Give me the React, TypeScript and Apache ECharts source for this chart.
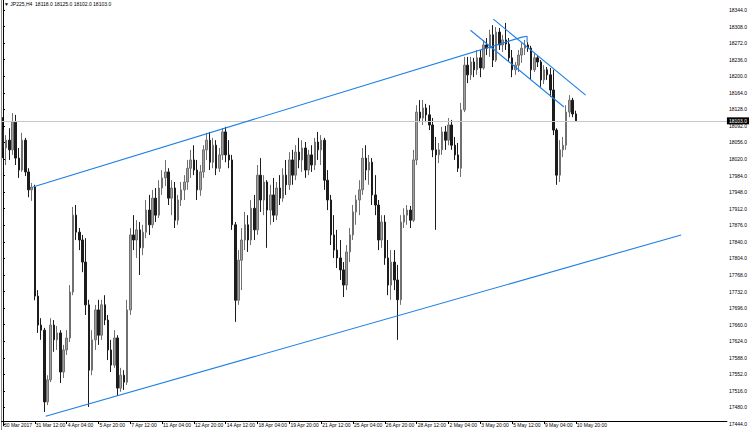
import React, { useEffect, useRef } from 'react';
import * as echarts from 'echarts';

const TITLE = '\u25BC JP225,H4  18118.0 18125.0 18102.0 18103.0';

const X_LABELS = [
  '30 Mar 2017', '31 Mar 12:00', '4 Apr 04:00', '5 Apr 20:00', '7 Apr 12:00',
  '11 Apr 04:00', '12 Apr 20:00', '14 Apr 12:00', '18 Apr 04:00', '19 Apr 20:00',
  '21 Apr 12:00', '25 Apr 04:00', '26 Apr 20:00', '28 Apr 12:00', '2 May 04:00',
  '3 May 20:00', '5 May 12:00', '9 May 04:00', '10 May 20:00',
];

const Y_TICKS = [
  17444, 17480, 17516, 17552, 17588, 17624, 17660, 17696, 17732, 17768, 17804, 17840, 17876,
  17912, 17948, 17984, 18020, 18056, 18092, 18128, 18164, 18200, 18236, 18272, 18308, 18344,
];

const OPEN = [
  18083, 18044, 18061, 18040, 18100, 18022, 17996, 18061, 17992, 17953,
  17959, 17722, 17659, 17648, 17492, 17540, 17659, 17627, 17642, 17557,
  17605, 17631, 17731, 17898, 17861, 17844, 17796, 17703, 17561, 17627,
  17692, 17637, 17703, 17670, 17605, 17572, 17631, 17522, 17550, 17535,
  17692, 17855, 17844, 17866, 17827, 17861, 17909, 17877, 17935, 17898,
  17957, 17979, 17992, 17935, 17957, 17887, 17931, 17953, 17970, 18000,
  18018, 17996, 17953, 17992, 18040, 18061, 18013, 18050, 18000, 18029,
  18079, 18029, 18018, 17877, 17713, 17800, 17844, 17877, 17844, 17913,
  17866, 17985, 17931, 17970, 17909, 17942, 17898, 17957, 17935, 17985,
  17964, 18018, 17985, 18035, 18018, 18044, 17996, 18029, 18007, 18057,
  18040, 18061, 17974, 17931, 17855, 17822, 17805, 17779, 17746, 17818,
  17855, 17905, 17931, 17953, 18022, 17996, 18013, 17942, 17920, 17844,
  17883, 17805, 17746, 17796, 17757, 17714, 17883, 17898, 17909, 17887,
  18018, 18122, 18109, 18131, 18116, 18094, 18040, 18029, 18040, 18079,
  18061, 18094, 18050, 18029, 18000, 18127, 18224, 18203, 18231, 18214,
  18240, 18218, 18268, 18261, 18290, 18235, 18296, 18268, 18279, 18270,
  18240, 18214, 18224, 18246, 18261, 18268, 18261, 18214, 18240, 18231,
  18192, 18214, 18203, 18170, 18083, 17985, 18040, 18050, 18122, 18148,
  18118,
];

const HIGH = [
  18111, 18072, 18087, 18120, 18116, 18044, 18077, 18066, 18000, 17968,
  17964, 17735, 17674, 17653, 17550, 17674, 17670, 17657, 17648, 17616,
  17648, 17746, 17916, 17920, 17870, 17855, 17848, 17714, 17648, 17703,
  17714, 17714, 17724, 17681, 17627, 17648, 17637, 17566, 17561, 17714,
  17870, 17898, 17887, 17883, 17877, 17931, 17942, 17953, 17957, 17974,
  17996, 18018, 18000, 17974, 17970, 17942, 17970, 17985, 18018, 18040,
  18050, 18018, 18007, 18050, 18077, 18079, 18066, 18061, 18044, 18087,
  18090, 18061, 18029, 17883, 17822, 17870, 17905, 17898, 17931, 17942,
  18007, 18022, 17985, 17974, 17964, 17979, 17970, 17985, 18000, 18018,
  18035, 18040, 18050, 18066, 18061, 18057, 18040, 18050, 18066, 18079,
  18072, 18066, 17996, 17942, 17898, 17866, 17844, 17796, 17833, 17870,
  17920, 17942, 17974, 18044, 18050, 18029, 18022, 17985, 17931, 17898,
  17898, 17844, 17822, 17822, 17790, 17898, 17913, 17920, 17918, 18040,
  18137, 18148, 18148, 18140, 18137, 18109, 18068, 18055, 18090, 18092,
  18109, 18105, 18068, 18055, 18142, 18242, 18242, 18242, 18240, 18257,
  18257, 18279, 18283, 18301, 18311, 18307, 18305, 18290, 18316, 18283,
  18257, 18231, 18257, 18272, 18279, 18274, 18266, 18250, 18246, 18235,
  18224, 18220, 18218, 18214, 18087, 18061, 18068, 18137, 18159, 18153,
  18125,
];

const LOW = [
  18022, 18007, 18018, 18029, 18007, 17979, 17992, 17983, 17937, 17929,
  17713, 17642, 17627, 17470, 17485, 17535, 17601, 17605, 17533, 17544,
  17594, 17622, 17724, 17844, 17822, 17774, 17681, 17481, 17550, 17605,
  17616, 17627, 17659, 17583, 17557, 17566, 17505, 17514, 17518, 17529,
  17681, 17822, 17805, 17768, 17811, 17848, 17855, 17870, 17883, 17892,
  17942, 17961, 17920, 17898, 17870, 17877, 17918, 17931, 17953, 17979,
  17985, 17931, 17940, 17979, 18018, 17996, 18000, 17985, 17992, 18018,
  18013, 18000, 17866, 17666, 17703, 17735, 17822, 17818, 17833, 17844,
  17855, 17905, 17898, 17827, 17877, 17883, 17887, 17920, 17927, 17942,
  17953, 17964, 17974, 18000, 17992, 17979, 17985, 17992, 17996, 18018,
  18007, 17953, 17909, 17833, 17805, 17783, 17757, 17720, 17735, 17796,
  17844, 17877, 17898, 17942, 17974, 17964, 17920, 17898, 17822, 17827,
  17790, 17724, 17714, 17735, 17627, 17703, 17870, 17877, 17870, 17883,
  18007, 18100, 18094, 18100, 18083, 18024, 17866, 18011, 18029, 18040,
  18050, 18040, 18018, 17992, 17981, 18122, 18185, 18192, 18198, 18203,
  18198, 18214, 18246, 18242, 18220, 18231, 18257, 18253, 18257, 18231,
  18198, 18203, 18209, 18229, 18246, 18253, 18192, 18209, 18220, 18177,
  18183, 18192, 18155, 18072, 17964, 17970, 18024, 18040, 18111, 18111,
  18102,
];

const CLOSE = [
  18044, 18061, 18040, 18100, 18022, 17996, 18061, 17992, 17953, 17959,
  17722, 17659, 17648, 17492, 17540, 17659, 17627, 17642, 17557, 17605,
  17631, 17731, 17898, 17861, 17844, 17796, 17703, 17561, 17627, 17692,
  17637, 17703, 17670, 17605, 17572, 17631, 17522, 17550, 17535, 17692,
  17855, 17844, 17866, 17827, 17861, 17909, 17877, 17935, 17898, 17957,
  17979, 17992, 17935, 17957, 17887, 17931, 17953, 17970, 18000, 18018,
  17996, 17953, 17992, 18040, 18061, 18013, 18050, 18000, 18029, 18079,
  18029, 18018, 17877, 17713, 17800, 17844, 17877, 17844, 17913, 17866,
  17985, 17931, 17970, 17909, 17942, 17898, 17957, 17935, 17985, 17964,
  18018, 17985, 18035, 18018, 18044, 17996, 18029, 18007, 18057, 18040,
  18061, 17974, 17931, 17855, 17822, 17805, 17779, 17746, 17818, 17855,
  17905, 17931, 17953, 18022, 17996, 18013, 17942, 17920, 17844, 17883,
  17805, 17746, 17796, 17757, 17714, 17883, 17898, 17909, 17887, 18018,
  18122, 18109, 18131, 18116, 18094, 18040, 18029, 18040, 18079, 18061,
  18094, 18050, 18029, 18000, 18127, 18224, 18203, 18231, 18214, 18240,
  18218, 18268, 18261, 18290, 18235, 18296, 18268, 18279, 18270, 18240,
  18214, 18224, 18246, 18261, 18268, 18261, 18214, 18240, 18231, 18192,
  18214, 18203, 18170, 18083, 17985, 18040, 18050, 18122, 18148, 18118,
  18103,
];

const LAST_PRICE = 18103;

// trend lines: [bar position, price]
const UPPER_TREND = [[9.4, 17959], [163.1, 18285], [164.7, 18287], [164.7, 18274]];
const LOWER_TREND = [[13.4, 17461], [213.1, 17855]];
const CHANNEL_UPPER = [[154.1, 18324], [183.1, 18159]];
const CHANNEL_LOWER = [[146.9, 18300], [176.3, 18133]];

const SLOTS = 228;
const LABEL_STEP = 10;

export default function App() {
  const ref = useRef<HTMLDivElement>(null);

  useEffect(() => {
    const chart = echarts.init(ref.current!, null, { renderer: 'svg' });
    const categories = Array.from({ length: SLOTS }, (_, i) => String(i));
    const candles = OPEN.map((o, i) => [o, CLOSE[i], LOW[i], HIGH[i]]);
    const labelAt = (i: number) => i % LABEL_STEP === 0 && i / LABEL_STEP < X_LABELS.length;
    const font = 'Liberation Sans, Arial, sans-serif';
    const trend = (data: number[][]) => ({
      type: 'line',
      xAxisIndex: 1,
      yAxisIndex: 0,
      data,
      symbol: 'none',
      silent: true,
      lineStyle: { color: '#1e7fe6', width: 1.1 },
      z: 5,
    });

    chart.setOption({
      animation: false,
      backgroundColor: '#ffffff',
      textStyle: { fontFamily: font },
      grid: { left: 1.4, top: 0, width: 729.6, height: 425.84 },
      xAxis: [
        {
          type: 'category',
          data: categories,
          boundaryGap: true,
          offset: -4.8,
          axisLine: { show: true, lineStyle: { color: '#000', width: 1 } },
          axisTick: {
            show: true,
            alignWithLabel: true,
            interval: (i: number) => labelAt(i),
            length: 3,
            lineStyle: { color: '#000' },
          },
          axisLabel: {
            interval: (i: number) => labelAt(i),
            formatter: (_v: string, i: number) => (labelAt(i) ? X_LABELS[i / LABEL_STEP] : ''),
            align: 'left',
            margin: 1,
            fontSize: 5,
            color: '#000',
            padding: [0, 0, 0, 1],
          },
          splitLine: { show: false },
        },
        { type: 'value', min: -0.5, max: SLOTS - 0.5, show: false },
      ],
      yAxis: {
        type: 'value',
        position: 'right',
        min: 17440,
        max: 18365.7,
        axisLine: { show: true, lineStyle: { color: '#000', width: 1 } },
        axisTick: { show: true, customValues: Y_TICKS, length: 2, lineStyle: { color: '#000' } },
        axisLabel: {
          customValues: Y_TICKS,
          showMinLabel: true,
          showMaxLabel: true,
          formatter: (v: number) => v.toFixed(1),
          fontSize: 5,
          color: '#000',
          margin: 2,
        },
        splitLine: { show: false },
      },
      graphic: [
        { type: 'line', shape: { x1: 1.5, y1: 0, x2: 1.5, y2: 430 }, style: { stroke: '#8a8a8a', lineWidth: 1 } },
        {
          type: 'text',
          left: 4,
          top: 1,
          style: { text: TITLE, fontSize: 5, fill: '#000', fontFamily: font },
        },
      ],
      series: [
        {
          type: 'candlestick',
          xAxisIndex: 0,
          yAxisIndex: 0,
          data: candles,
          barWidth: 2,
          itemStyle: {
            color: '#a0a0a0',
            color0: '#1c1c1c',
            borderColor: '#707070',
            borderColor0: '#1c1c1c',
            borderWidth: 1,
          },
          markLine: {
            silent: true,
            symbol: ['none', 'none'],
            data: [{ yAxis: LAST_PRICE }],
            lineStyle: { color: '#c8c8c8', type: 'solid', width: 1 },
            label: {
              show: true,
              position: 'end',
              distance: 0,
              formatter: LAST_PRICE.toFixed(1),
              backgroundColor: '#000',
              color: '#fff',
              fontSize: 5,
              padding: [1, 2],
            },
          },
          z: 3,
        },
        trend(UPPER_TREND),
        trend(LOWER_TREND),
        trend(CHANNEL_UPPER),
        trend(CHANNEL_LOWER),
      ],
    });

    return () => chart.dispose();
  }, []);

  return (
    <div
      ref={ref}
      style={{ position: 'fixed', left: 0, top: 0, width: 750, height: 430, background: '#fff' }}
    />
  );
}
